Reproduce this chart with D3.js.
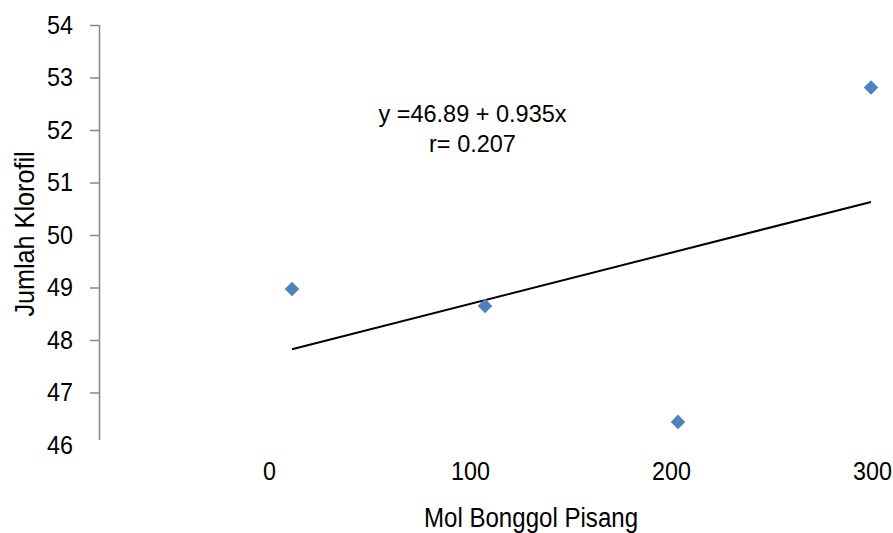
<!DOCTYPE html>
<html>
<head>
<meta charset="utf-8">
<script src="https://cdn.jsdelivr.net/npm/d3@7"></script>
<style>
  html, body { margin: 0; padding: 0; background: #fff; }
  svg { display: block; }
  text { font-family: "Liberation Sans", Arial, sans-serif; fill: #000; }
</style>
</head>
<body>
<svg id="chart" width="893" height="533"></svg>
<script>
// ---- data ----
const xValues = [1, 2, 3, 4];
const yValues = [48.97, 48.65, 46.44, 52.81];
const xTickLabels = [0, 100, 200, 300];
const yTicks = [46, 47, 48, 49, 50, 51, 52, 53, 54];
const intercept = 46.89;
const slope = 0.935;
const equationLines = ["y =46.89 + 0.935x", "r= 0.207"];
const xTitle = "Mol Bonggol Pisang";
const yTitle = "Jumlah Klorofil";

// ---- layout ----
const svg = d3.select("#chart");
const axisX = 99;
const narrow = 0.88;
const tickFont = 26.5;
const x = d3.scaleLinear().domain([1, 4]).range([292, 871]);
const xLabelScale = d3.scaleLinear().domain([0, 300]).range([269, 872]);
const y = d3.scaleLinear().domain([46, 54]).range([445, 25]);

function narrowTicks(sel) {
  sel.each(function () {
    const t = d3.select(this);
    const tx = +t.attr("x") || 0;
    t.attr("x", tx / narrow).attr("transform", `scale(${narrow},1)`)
      .attr("font-size", tickFont).attr("fill", "#000")
      .style("font-family", '"Liberation Sans", Arial, sans-serif');
  });
}

// y axis
const yAxis = d3.axisLeft(y).tickValues(yTicks).tickSizeInner(9).tickSizeOuter(0).tickPadding(17)
  .tickFormat(d3.format("d"));
const gy = svg.append("g").attr("transform", `translate(${axisX},0)`).call(yAxis);
gy.select(".domain").attr("stroke", "#868686").attr("stroke-width", 1.5)
  .attr("d", `M0.5,${y(54)}V${y(46) - 5}`);
gy.selectAll(".tick line").attr("stroke", "#868686").attr("stroke-width", 1.5);
gy.selectAll(".tick").filter(d => d === 46).select("line").remove();
gy.selectAll(".tick text").call(narrowTicks);

// x tick labels (no axis line)
const xAxis = d3.axisBottom(xLabelScale).tickValues(xTickLabels).tickSize(0).tickPadding(0)
  .tickFormat(d3.format("d"));
const gx = svg.append("g").attr("transform", `translate(0,${480 - 0.71 * tickFont})`).call(xAxis);
gx.select(".domain").remove();
gx.selectAll(".tick text").call(narrowTicks);

// trend line
const trend = d3.line().x(d => x(d)).y(d => y(intercept + slope * d));
svg.append("path").datum([d3.min(xValues), d3.max(xValues)])
  .attr("d", trend).attr("fill", "none").attr("stroke", "#000").attr("stroke-width", 2);

// points (diamonds)
const sym = d3.symbol().type(d3.symbolSquare).size(106);
svg.selectAll(".pt").data(xValues.map((v, i) => [v, yValues[i]])).enter()
  .append("path").attr("class", "pt")
  .attr("d", sym)
  .attr("transform", d => `translate(${x(d[0])},${y(d[1])}) rotate(45)`)
  .attr("fill", "#4F81BD");

// equation text
svg.append("text").attr("x", 472.5).attr("y", 122).attr("text-anchor", "middle")
  .attr("font-size", 23.5).text(equationLines[0]);
svg.append("text").attr("x", 472.5).attr("y", 152).attr("text-anchor", "middle")
  .attr("font-size", 23.5).text(equationLines[1]);

// axis titles
svg.append("g").attr("transform", "translate(531,527)")
  .append("text").attr("transform", "scale(0.86,1)").attr("text-anchor", "middle")
  .attr("font-size", 28).text(xTitle);
svg.append("g").attr("transform", "translate(34,234) rotate(-90)")
  .append("text").attr("transform", "scale(0.9,1)").attr("text-anchor", "middle")
  .attr("font-size", 28).text(yTitle);
</script>
</body>
</html>
